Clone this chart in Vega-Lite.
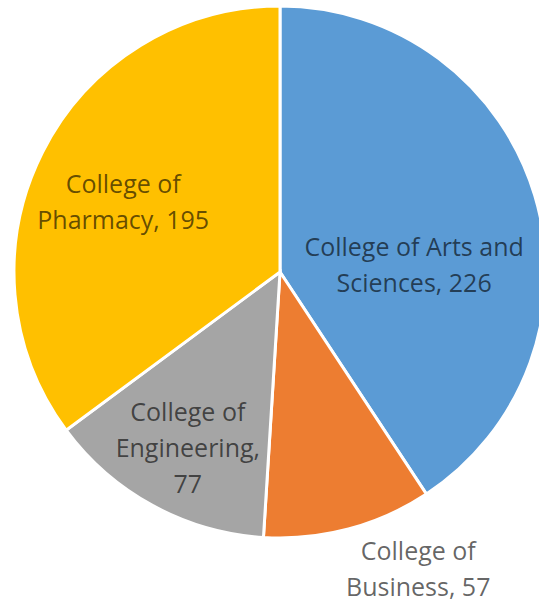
{
  "$schema": "https://vega.github.io/schema/vega-lite/v6.json",
  "autosize": "none",
  "width": 518,
  "height": 544,
  "padding": {"left": 21, "top": 0, "right": 0, "bottom": 59},
  "background": "white",
  "view": {"stroke": null},
  "data": {
    "values": [
      {"college": "College of Arts and Sciences", "value": 226, "order": 1, "label": "College of Arts and|Sciences, 226"},
      {"college": "College of Business", "value": 57, "order": 2, "label": "College of|Business, 57"},
      {"college": "College of Engineering", "value": 77, "order": 3, "label": "College of|Engineering,|77"},
      {"college": "College of Pharmacy", "value": 195, "order": 4, "label": "College of|Pharmacy, 195"}
    ]
  },
  "encoding": {
    "theta": {"field": "value", "type": "quantitative", "stack": true},
    "order": {"field": "order", "type": "quantitative"}
  },
  "layer": [
    {
      "mark": {"type": "arc", "outerRadius": 266, "stroke": "white", "strokeWidth": 3},
      "encoding": {
        "color": {
          "field": "college",
          "type": "nominal",
          "scale": {
            "domain": ["College of Arts and Sciences", "College of Business", "College of Engineering", "College of Pharmacy"],
            "range": ["#5B9BD5", "#ED7D31", "#A5A5A5", "#FFC000"]
          },
          "legend": null
        }
      }
    },
    {
      "mark": {"type": "text", "radius": 140, "dx": 0, "dy": 16, "font": "Open Sans", "fontSize": 25, "letterSpacing": 0.3, "lineHeight": 36, "lineBreak": "|", "fill": "#000000", "fillOpacity": 0.62, "align": "center", "baseline": "middle"},
      "encoding": {"text": {"condition": {"test": "datum.order === 1", "field": "label"}, "value": ""}}
    },
    {
      "mark": {"type": "text", "radius": 300, "dx": 61, "dy": -10, "font": "Open Sans", "fontSize": 25, "letterSpacing": 0.3, "lineHeight": 36, "lineBreak": "|", "fill": "#000000", "fillOpacity": 0.62, "align": "center", "baseline": "middle"},
      "encoding": {"text": {"condition": {"test": "datum.order === 2", "field": "label"}, "value": ""}}
    },
    {
      "mark": {"type": "text", "radius": 195, "dx": 1, "dy": -30, "font": "Open Sans", "fontSize": 25, "letterSpacing": 0.3, "lineHeight": 36, "lineBreak": "|", "fill": "#000000", "fillOpacity": 0.62, "align": "center", "baseline": "middle"},
      "encoding": {"text": {"condition": {"test": "datum.order === 3", "field": "label"}, "value": ""}}
    },
    {
      "mark": {"type": "text", "radius": 170, "dx": -5, "dy": -10, "font": "Open Sans", "fontSize": 25, "letterSpacing": 0.3, "lineHeight": 36, "lineBreak": "|", "fill": "#000000", "fillOpacity": 0.62, "align": "center", "baseline": "middle"},
      "encoding": {"text": {"condition": {"test": "datum.order === 4", "field": "label"}, "value": ""}}
    }
  ]
}
